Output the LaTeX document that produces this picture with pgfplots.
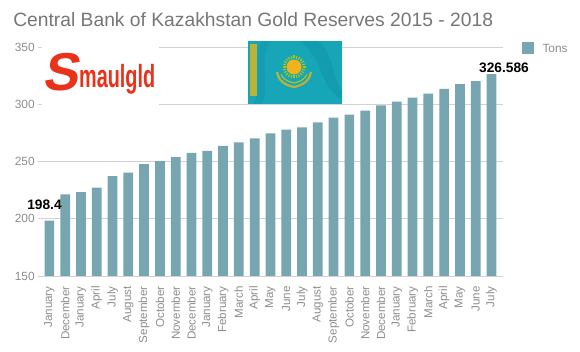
\documentclass[border=0pt]{standalone}
\usepackage{pgfplots}
\pgfplotsset{compat=1.18}
\usepackage{fontspec}
\setmainfont{Liberation Sans}
\definecolor{bar}{HTML}{77A6B0}
\definecolor{titlec}{HTML}{777777}
\definecolor{tickc}{HTML}{8E8E8E}
\definecolor{gridc}{HTML}{D2D2D2}
\definecolor{flagc}{HTML}{17A5B8}
\definecolor{flagd}{HTML}{0F8FA6}
\definecolor{sunc}{HTML}{F2B21B}
\definecolor{orn}{HTML}{B9B437}
\definecolor{logoc}{HTML}{E8321A}
\begin{document}
\begin{tikzpicture}[x=0.75pt,y=0.75pt]
\path[use as bounding box,fill=white] (0,0) rectangle (580,352);
\begin{axis}[
  at={(28.5pt,57pt)}, anchor=south west, scale only axis,
  width=348.75pt, height=171.4pt,
  ymin=150, ymax=350, xmin=-0.72, xmax=28.73,
  ytick={150,200,250,300,350},
  /pgf/number format/assume math mode=true,
  xtick=data,
  xticklabels={January,December,January,April,July,August,September,October,November,December,January,February,March,April,May,June,July,August,September,October,November,December,January,February,March,April,May,June,July},
  x tick label style={rotate=90, anchor=east, font=\fontsize{8.7pt}{9pt}\selectfont, text=tickc},
  y tick label style={font=\fontsize{8.9pt}{9pt}\selectfont, text=tickc},
  tick style={draw=none},
  xticklabel shift=0pt, yticklabel shift=-1pt,
  axis line style={draw=none},
  axis x line*=bottom, axis y line*=left,
  ymajorgrids, grid style={gridc, line width=0.7pt},
  ybar, bar width=7.3pt,
  legend style={at={(1.0395,1.026)}, anchor=north west, draw=none, fill=none, inner sep=0pt, font=\fontsize{8.9pt}{9pt}\selectfont\color{tickc}, legend cell align=left},
  legend image code/.code={\fill[bar] (0cm,-0.125cm) rectangle (0.32cm,0.19cm); \path (0.48cm,0);},
  clip=false,
]
\addplot[fill=bar, draw=none] coordinates {
(0,198.4)(1,221.5)(2,223.5)(3,227.3)(4,237.5)(5,240.4)(6,248)(7,250.6)(8,254)(9,257.7)
(10,259.4)(11,263.8)(12,267)(13,270.5)(14,274.9)(15,278)(16,280.1)(17,284.5)(18,288.6)(19,291.2)
(20,294.7)(21,299.4)(22,302.6)(23,306)(24,309.6)(25,313.7)(26,318)(27,320.6)(28,326.586)};
\addlegendentry{Tons}
\end{axis}
\begin{scope}[yshift=264pt,y=-0.75pt]
% title
\node[anchor=base west, inner sep=0pt, text=titlec, font=\fontsize{14.45pt}{16pt}\selectfont] at (13,26.5) {Central Bank of Kazakhstan Gold Reserves 2015 - 2018};
% logo background
\fill[white] (42,42) rectangle (159,108);
\node[anchor=base west, inner sep=0pt, text=logoc, font=\bfseries\fontsize{40pt}{40pt}\selectfont, xslant=0.18] at (42,91) {S};
\node[anchor=base west, inner sep=0pt, text=logoc, font=\bfseries\fontsize{24pt}{24pt}\selectfont, xscale=0.62] at (79,88) {maulgld};
% flag
\fill[flagc] (248,41) rectangle (342,104);
\fill[flagd,opacity=.45] (300,41) .. controls (325,60) and (318,85) .. (342,100) -- (342,90) .. controls (330,75) and (335,55) .. (318,41) -- cycle;
\fill[flagd,opacity=.35] (262,104) .. controls (270,85) and (258,60) .. (270,41) -- (262,41) .. controls (252,60) and (262,85) .. (254,104) -- cycle;
\fill[orn] (250,44) rectangle (257,96);
\foreach \a in {0,15,...,345} \draw[sunc!70!green, line width=.8pt] (294,67) ++(\a:8.5) -- ++(\a:3);
\fill[sunc] (294,67) circle[radius=7.5];
\draw[orn, line width=1.6pt] (277,72) .. controls (279,84) and (290,86) .. (294,87) .. controls (298,86) and (309,84) .. (311,72);
\draw[sunc!80!green, line width=.8pt] (281,74) .. controls (284,81) and (290,82) .. (294,83) .. controls (298,82) and (304,81) .. (307,74);
% data labels
\node[anchor=center, inner sep=0pt, font=\bfseries\fontsize{10.3pt}{11pt}\selectfont] at (44.5,205) {198.4};
\node[anchor=center, inner sep=0pt, font=\bfseries\fontsize{10.3pt}{11pt}\selectfont] at (504,68) {326.586};
\end{scope}
\end{tikzpicture}
\end{document}
